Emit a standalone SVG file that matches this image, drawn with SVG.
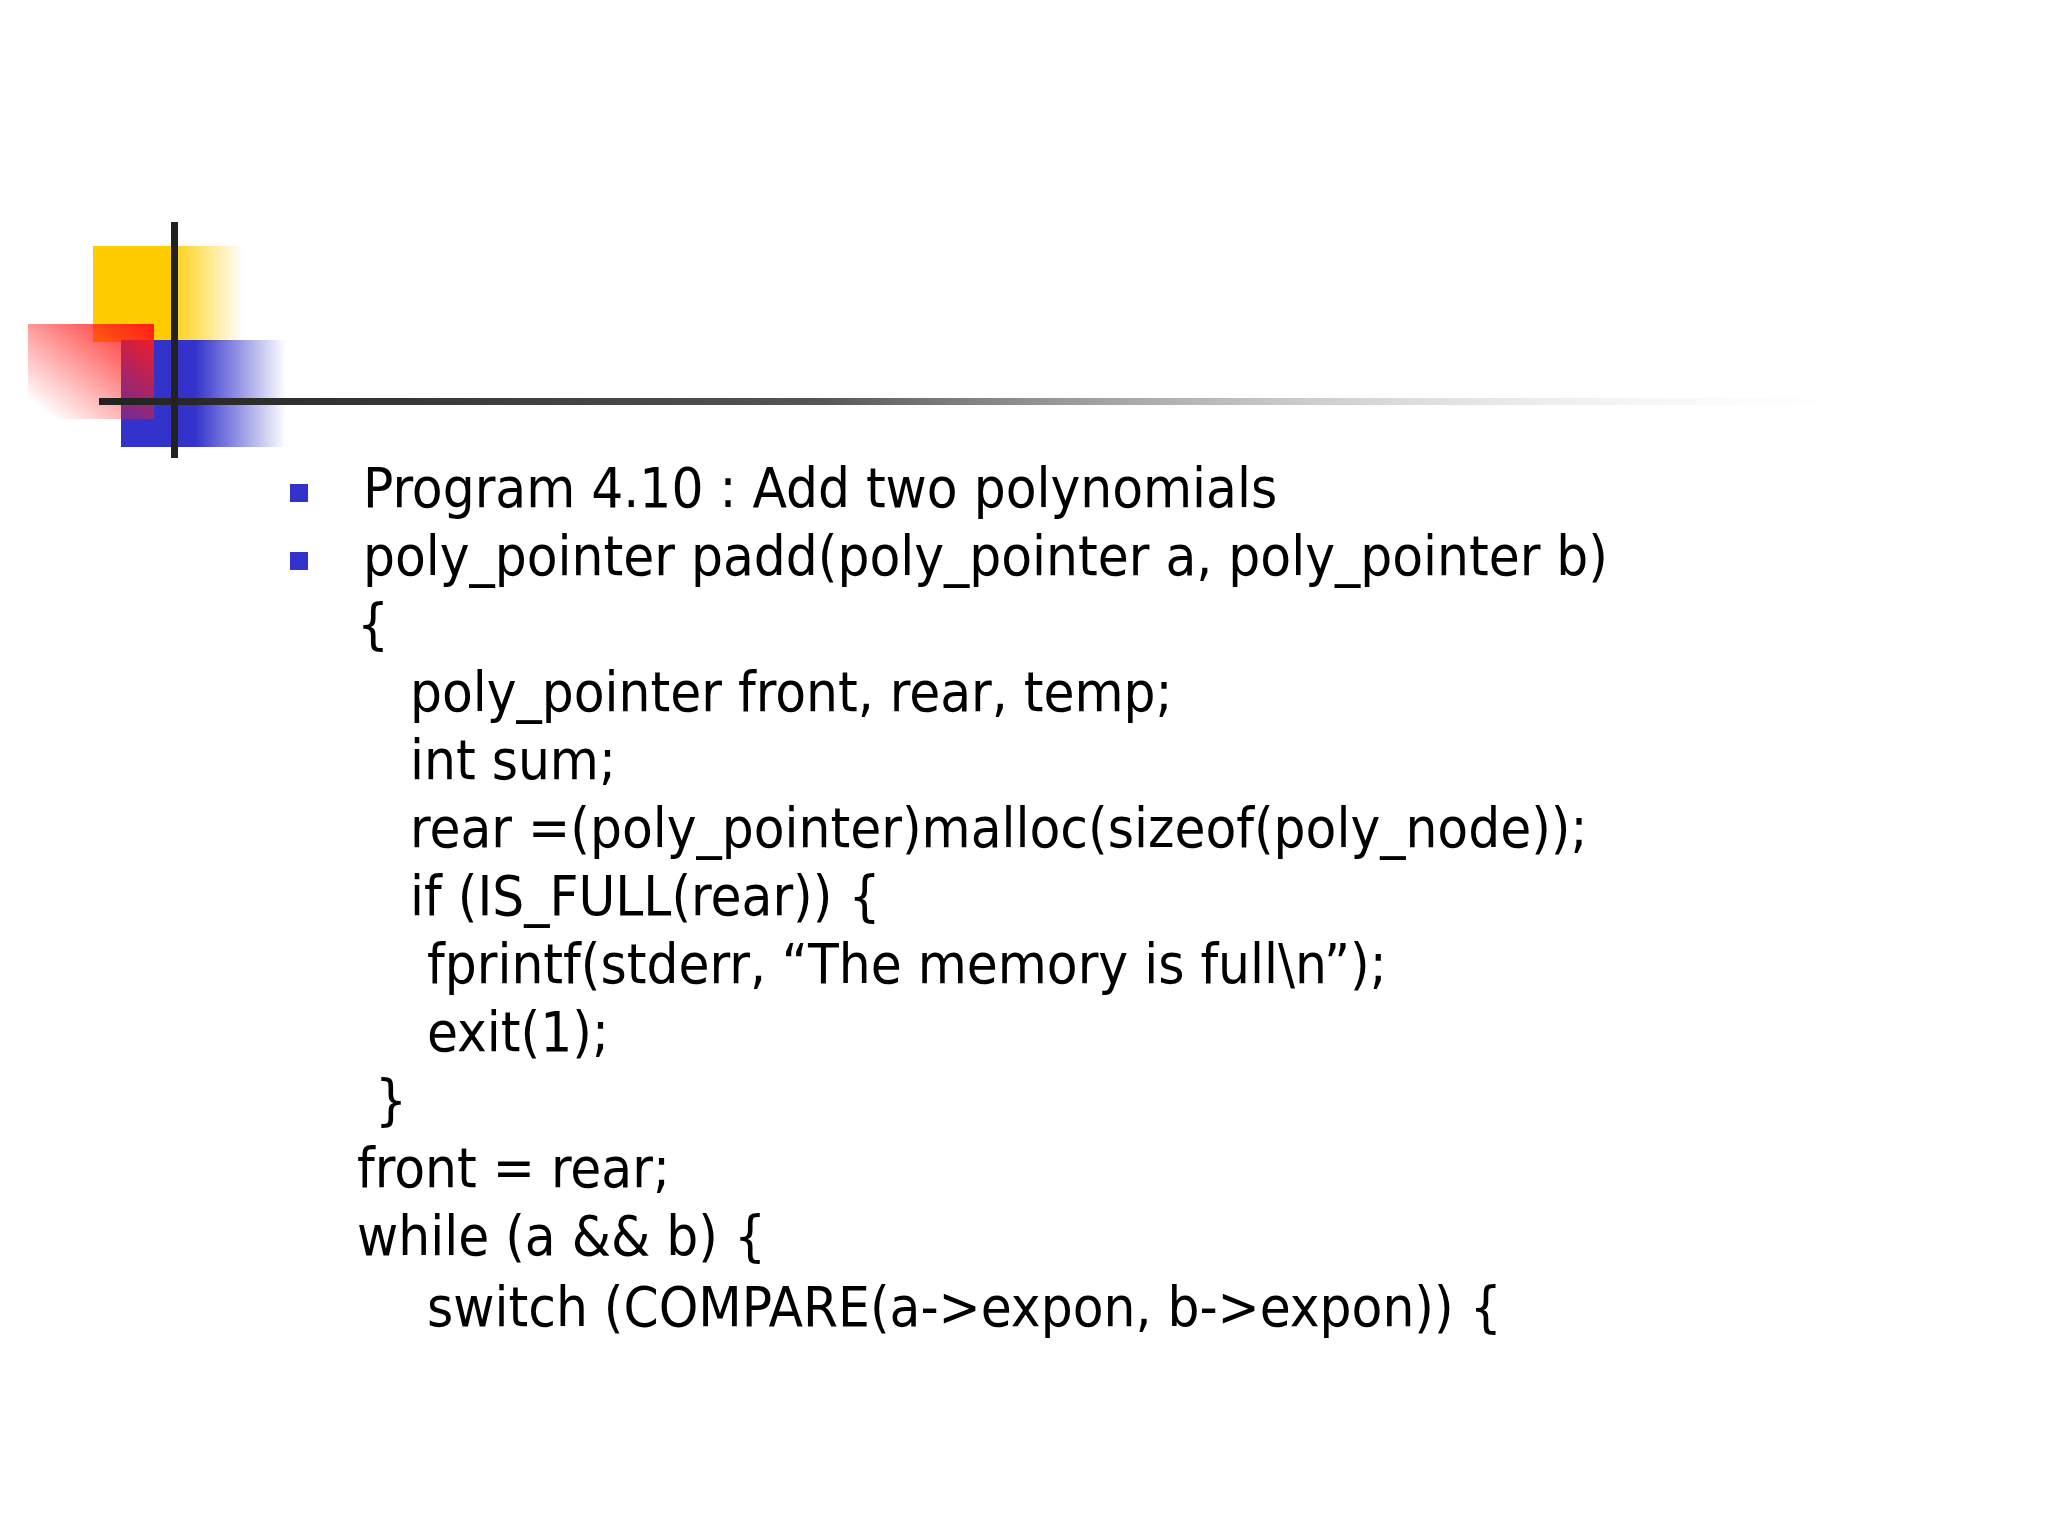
<svg xmlns="http://www.w3.org/2000/svg" width="2048" height="1536" viewBox="0 0 2048 1536">
<defs>
<linearGradient id="gy" x1="0" x2="1" y1="0" y2="0"><stop offset="0.5" stop-color="#ffcc00"/><stop offset="1" stop-color="#ffcc00" stop-opacity="0"/></linearGradient>
<linearGradient id="gb" x1="0" x2="1" y1="0" y2="0"><stop offset="0.45" stop-color="#3333cc"/><stop offset="1" stop-color="#3333cc" stop-opacity="0"/></linearGradient>
<linearGradient id="gr" x1="1" x2="0" y1="0" y2="1"><stop offset="0" stop-color="#ff1a1a"/><stop offset="0.9" stop-color="#ff1a1a" stop-opacity="0"/></linearGradient>
<linearGradient id="gl" x1="0" x2="1" y1="0" y2="0"><stop offset="0" stop-color="#222"/><stop offset="0.4" stop-color="#555"/><stop offset="1" stop-color="#fff" stop-opacity="0"/></linearGradient>
<style>text{font-family:"DejaVu Sans Condensed","DejaVu Sans",sans-serif;font-size:56px;fill:#000}</style>
</defs>
<rect width="2048" height="1536" fill="#fff"/>
<g id="logo">
<rect x="93" y="246" width="150" height="96" fill="url(#gy)"/>
<rect x="121" y="340" width="165" height="107" fill="url(#gb)"/>
<rect x="28" y="324" width="126" height="95" fill="url(#gr)"/>
<rect x="99" y="398" width="1800" height="7" fill="url(#gl)"/>
<rect x="171" y="222" width="7" height="236" fill="#222"/>
</g>
<g id="bullets" fill="#3333cc">
<rect x="290" y="484" width="18" height="18"/>
<rect x="290" y="552" width="18" height="18"/>
</g>
<g id="code">
<text x="363" y="507">Program 4.10 : Add two polynomials</text>
<text x="363" y="575">poly_pointer padd(poly_pointer a, poly_pointer b)</text>
<text x="357" y="643">{</text>
<text x="410" y="711">poly_pointer front, rear, temp;</text>
<text x="410" y="779">int sum;</text>
<text x="410" y="847">rear =(poly_pointer)malloc(sizeof(poly_node));</text>
<text x="410" y="915">if (IS_FULL(rear)) {</text>
<text x="427" y="983">fprintf(stderr, “The memory is full\n”);</text>
<text x="427" y="1051">exit(1);</text>
<text x="375" y="1119">}</text>
<text x="357" y="1187">front = rear;</text>
<text x="357" y="1255">while (a &amp;&amp; b) {</text>
<text x="427" y="1326">switch (COMPARE(a-&gt;expon, b-&gt;expon)) {</text>
</g>
</svg>
